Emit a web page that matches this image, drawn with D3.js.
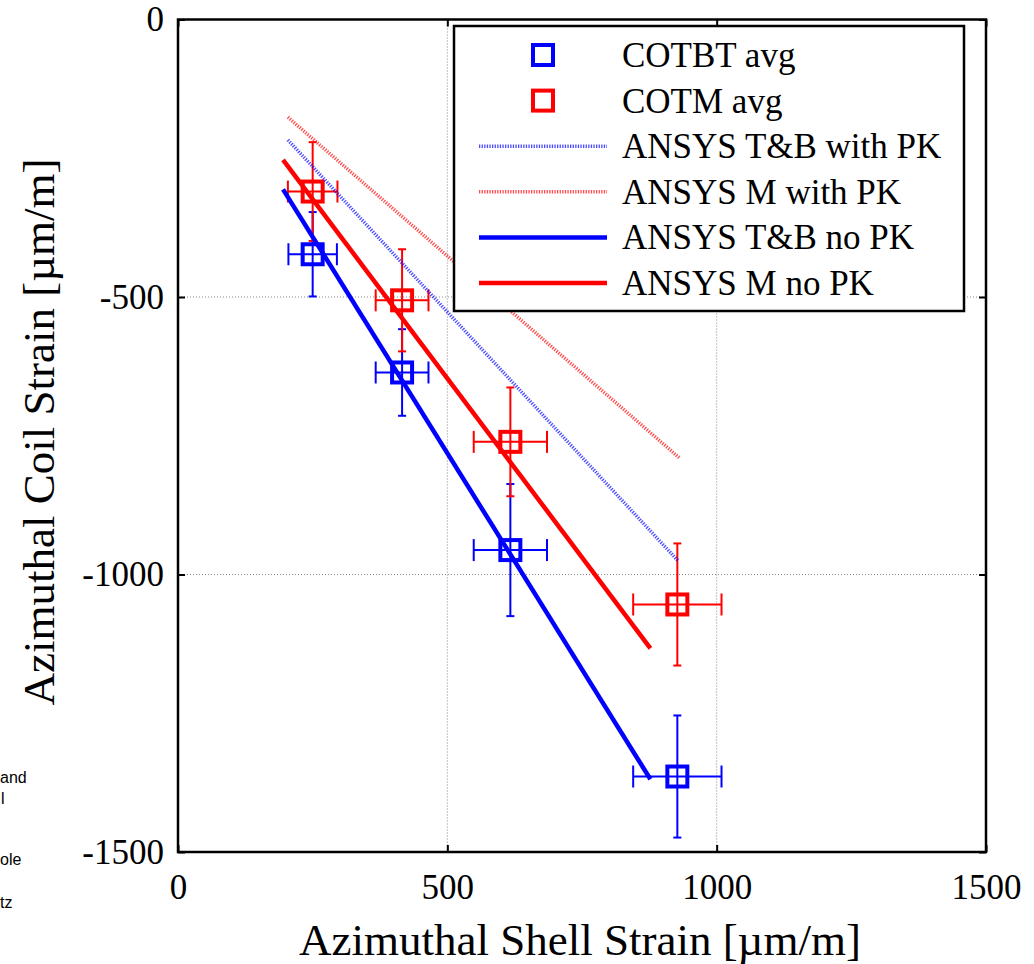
<!DOCTYPE html>
<html>
<head>
<meta charset="utf-8">
<script src="https://cdn.jsdelivr.net/npm/d3@7"></script>
<style>
  body { margin: 0; background: #fff; }
  svg { display: block; }
  text { font-family: 'Liberation Serif', 'Times New Roman', serif; fill: #000; }
  .axis text { font-size: 35px; }
  .axis line { stroke: #000; stroke-width: 2; }
  text.stray { font-family: 'Liberation Sans', Arial, sans-serif; font-size: 16px; }
</style>
</head>
<body>
<div id="chart"></div>
<script>
// measured points (shell strain vs coil strain), µm/m
let shellStrain = [250, 416, 617, 927]
let cotbtAvg = [-423, -636, -956, -1364]
let cotmAvg = [-310, -506, -761, -1054]
let cotbtXErr = [45, 49, 68, 82]
let cotmXErr = [46, 49, 68, 82]
let cotbtYErr = [76, 78, 119, 110]
let cotmYErr = [89, 92, 98, 110]

// ANSYS model lines (end points)
let tbNoPK = [{ x: 195, y: -306 }, { x: 877, y: -1369 }]
let mNoPK = [{ x: 195, y: -253 }, { x: 877, y: -1133 }]
let tbWithPK = [{ x: 204, y: -217 }, { x: 929, y: -976 }]
let mWithPK = [{ x: 204, y: -176 }, { x: 932, y: -791 }]

let xTicks = [0, 500, 1000, 1500]
let yTicks = [0, -500, -1000, -1500]

let legendLabels = ['COTBT avg', 'COTM avg', 'ANSYS T&B with PK', 'ANSYS M with PK', 'ANSYS T&B no PK', 'ANSYS M no PK']

let margin = { top: 19.5, left: 178, right: 48, bottom: 112 }
let width = 1034 - margin.left - margin.right
let height = 964 - margin.top - margin.bottom

let root = d3
  .select('#chart')
  .append('svg')
  .attr('width', 1034)
  .attr('height', 964)

// stray text cut off at the left edge of the original figure
let stray = [
  { t: 'and', x: 0, y: 783 },
  { t: 'l', x: 1, y: 804 },
  { t: 'ole', x: 0, y: 865 },
  { t: 'tz', x: 0, y: 908 }
]
root
  .selectAll('.stray')
  .data(stray)
  .enter()
  .append('text')
  .attr('class', 'stray')
  .attr('x', d => d.x)
  .attr('y', d => d.y)
  .text(d => d.t)

let svg = root.append('g').attr('transform', `translate(${margin.left}, ${margin.top})`)

let xPositionScale = d3.scaleLinear().domain([0, 1500]).range([0, width])
let yPositionScale = d3.scaleLinear().domain([0, -1500]).range([0, height])

// grid
svg
  .selectAll('.grid-x')
  .data([500, 1000])
  .enter()
  .append('line')
  .attr('x1', d => xPositionScale(d))
  .attr('x2', d => xPositionScale(d))
  .attr('y1', 0)
  .attr('y2', height)
  .attr('stroke', '#888')
  .attr('stroke-width', 1)
  .attr('stroke-dasharray', '1,2')
svg
  .selectAll('.grid-y')
  .data([-500, -1000])
  .enter()
  .append('line')
  .attr('x1', 0)
  .attr('x2', width)
  .attr('y1', d => yPositionScale(d))
  .attr('y2', d => yPositionScale(d))
  .attr('stroke', '#888')
  .attr('stroke-width', 1)
  .attr('stroke-dasharray', '1,2')

// axes with inward ticks on all four sides
let plain = d => String(d)
let xAxis = d3.axisBottom(xPositionScale).tickValues(xTicks).tickSize(-7).tickPadding(22).tickFormat(plain)
svg
  .append('g')
  .attr('class', 'axis x-axis')
  .attr('transform', `translate(0,${height})`)
  .call(xAxis)
let yAxis = d3.axisLeft(yPositionScale).tickValues(yTicks).tickSize(-7).tickPadding(14).tickFormat(plain)
svg
  .append('g')
  .attr('class', 'axis y-axis')
  .call(yAxis)
svg
  .append('g')
  .attr('class', 'axis')
  .call(d3.axisTop(xPositionScale).tickValues(xTicks).tickSize(-7).tickFormat(''))
svg
  .append('g')
  .attr('class', 'axis')
  .attr('transform', `translate(${width},0)`)
  .call(d3.axisRight(yPositionScale).tickValues(yTicks).tickSize(-7).tickFormat(''))
svg.selectAll('.axis .domain').remove()
svg.selectAll('.axis').attr('font-family', null).attr('font-size', null)

svg
  .append('rect')
  .attr('width', width)
  .attr('height', height)
  .attr('fill', 'none')
  .attr('stroke', '#000')
  .attr('stroke-width', 2.5)

// error bars and markers
function drawSeries(ys, xErr, yErr, color, cls) {
  let pts = shellStrain.map((x, i) => ({ x: x, y: ys[i], ex: xErr[i], ey: yErr[i] }))
  let g = svg.selectAll('.' + cls).data(pts).enter().append('g').attr('class', cls)
  g.append('line')
    .attr('x1', d => xPositionScale(d.x - d.ex))
    .attr('x2', d => xPositionScale(d.x + d.ex))
    .attr('y1', d => yPositionScale(d.y))
    .attr('y2', d => yPositionScale(d.y))
  g.append('line')
    .attr('x1', d => xPositionScale(d.x))
    .attr('x2', d => xPositionScale(d.x))
    .attr('y1', d => yPositionScale(d.y - d.ey))
    .attr('y2', d => yPositionScale(d.y + d.ey))
  // caps
  ;[-1, 1].forEach(s => {
    g.append('line')
      .attr('x1', d => xPositionScale(d.x + s * d.ex))
      .attr('x2', d => xPositionScale(d.x + s * d.ex))
      .attr('y1', d => yPositionScale(d.y) - 11)
      .attr('y2', d => yPositionScale(d.y) + 11)
    g.append('line')
      .attr('x1', d => xPositionScale(d.x) - 4)
      .attr('x2', d => xPositionScale(d.x) + 4)
      .attr('y1', d => yPositionScale(d.y + s * d.ey))
      .attr('y2', d => yPositionScale(d.y + s * d.ey))
  })
  g.selectAll('line').attr('stroke', color).attr('stroke-width', 2)
  g.append('rect')
    .attr('x', d => xPositionScale(d.x) - 10)
    .attr('y', d => yPositionScale(d.y) - 10)
    .attr('width', 20)
    .attr('height', 20)
    .attr('fill', 'none')
    .attr('stroke', color)
    .attr('stroke-width', 4)
}
drawSeries(cotbtAvg, cotbtXErr, cotbtYErr, '#0000ff', 'cotbt')
drawSeries(cotmAvg, cotmXErr, cotmYErr, '#ff0000', 'cotm')

let line = d3
  .line()
  .x(d => xPositionScale(d.x))
  .y(d => yPositionScale(d.y))

let models = [
  { values: tbWithPK, color: '#0000ff', dotted: true },
  { values: mWithPK, color: '#ff0000', dotted: true },
  { values: tbNoPK, color: '#0000ff', dotted: false },
  { values: mNoPK, color: '#ff0000', dotted: false }
]
svg
  .selectAll('.model-line')
  .data(models)
  .enter()
  .append('path')
  .attr('class', 'model-line')
  .attr('d', d => line(d.values))
  .attr('fill', 'none')
  .attr('stroke', d => d.color)
  .attr('stroke-width', d => (d.dotted ? 3.5 : 4.5))
  .attr('stroke-dasharray', d => (d.dotted ? '1.3,1.3' : null))
  .attr('stroke-opacity', d => (d.dotted ? 0.7 : 1))

// legend
let legend = root.append('g').attr('transform', 'translate(454, 26)')
legend
  .append('rect')
  .attr('width', 510)
  .attr('height', 285)
  .attr('fill', '#fff')
  .attr('stroke', '#000')
  .attr('stroke-width', 2.5)

let legendItems = legendLabels.map((label, i) => ({
  label: label,
  kind: i < 2 ? 'marker' : i < 4 ? 'dotted' : 'solid',
  color: i % 2 === 0 ? '#0000ff' : '#ff0000'
}))
let rows = legend
  .selectAll('.legend-row')
  .data(legendItems)
  .enter()
  .append('g')
  .attr('class', 'legend-row')
  .attr('transform', (d, i) => `translate(0, ${29 + i * 45.6})`)
rows
  .filter(d => d.kind === 'marker')
  .append('rect')
  .attr('x', 79)
  .attr('y', -10)
  .attr('width', 20)
  .attr('height', 20)
  .attr('fill', 'none')
  .attr('stroke', d => d.color)
  .attr('stroke-width', 4)
rows
  .filter(d => d.kind !== 'marker')
  .append('line')
  .attr('x1', 25)
  .attr('x2', 153)
  .attr('stroke', d => d.color)
  .attr('stroke-width', d => (d.kind === 'dotted' ? 3.5 : 4.5))
  .attr('stroke-dasharray', d => (d.kind === 'dotted' ? '1.3,1.3' : null))
  .attr('stroke-opacity', d => (d.kind === 'dotted' ? 0.7 : 1))
rows
  .append('text')
  .attr('x', 168)
  .attr('y', 12)
  .style('font-size', '35px')
  .text(d => d.label)

// axis titles
root
  .append('text')
  .attr('x', 580)
  .attr('y', 955)
  .attr('text-anchor', 'middle')
  .style('font-size', '45px')
  .text('Azimuthal Shell Strain [µm/m]')
root
  .append('text')
  .attr('transform', 'translate(54, 432) rotate(-90)')
  .attr('text-anchor', 'middle')
  .style('font-size', '45px')
  .text('Azimuthal Coil Strain [µm/m]')
</script>
</body>
</html>
